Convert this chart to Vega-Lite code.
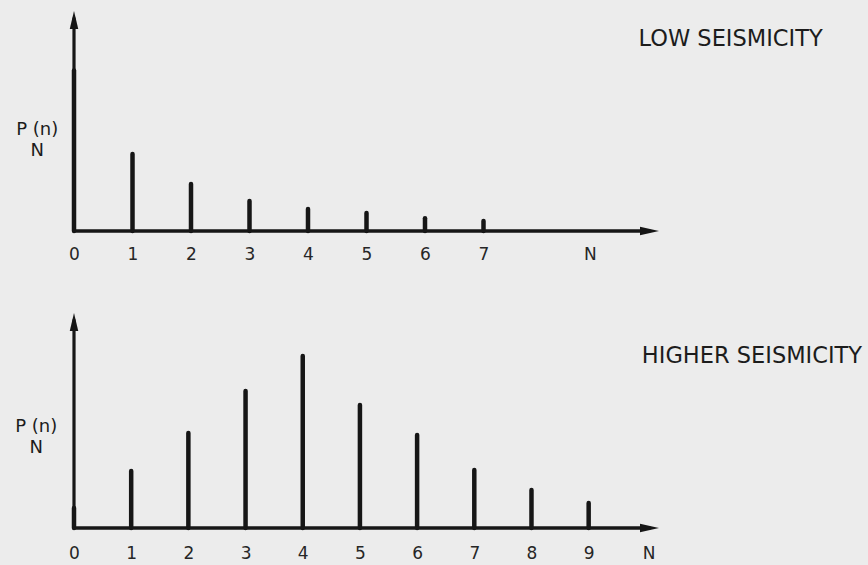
{
  "$schema": "https://vega.github.io/schema/vega-lite/v6.json",
  "background": "#ececec",
  "padding": {"left": 15, "top": 11, "right": 40, "bottom": 40},
  "bounds": "flush",
  "spacing": 82,
  "config": {
    "view": {"stroke": null},
    "font": "DejaVu Sans",
    "text": {"font": "DejaVu Sans", "color": "#1c1c1c"},
    "axis": {"labelFont": "DejaVu Sans", "labelColor": "#262626"}
  },
  "datasets": {
    "low": [
      {"n": 0, "p": 0.73},
      {"n": 1, "p": 0.35},
      {"n": 2, "p": 0.214},
      {"n": 3, "p": 0.136},
      {"n": 4, "p": 0.1},
      {"n": 5, "p": 0.082},
      {"n": 6, "p": 0.058},
      {"n": 7, "p": 0.045}
    ],
    "high": [
      {"n": 0, "p": 0.093},
      {"n": 1, "p": 0.265},
      {"n": 2, "p": 0.442},
      {"n": 3, "p": 0.637},
      {"n": 4, "p": 0.8},
      {"n": 5, "p": 0.572},
      {"n": 6, "p": 0.433},
      {"n": 7, "p": 0.27},
      {"n": 8, "p": 0.177},
      {"n": 9, "p": 0.116}
    ]
  },
  "vconcat": [
    {
      "width": 585,
      "height": 220,
      "data": {"name": "low"},
      "layer": [
        {
          "mark": {"type": "rule", "color": "#161616", "strokeWidth": 4.5, "strokeCap": "round"},
          "encoding": {
            "x": {
              "field": "n",
              "type": "quantitative",
              "scale": {"domain": [0, 10], "nice": false},
              "axis": {
                "values": [0, 1, 2, 3, 4, 5, 6, 7, 8.82],
                "labelExpr": "datum.value > 8 ? 'N' : format(datum.value, 'd')",
                "domain": false,
                "ticks": false,
                "tickSize": 0,
                "grid": false,
                "labelPadding": 23,
                "labelFontSize": 17,
                "labelBaseline": "middle",
                "labelFlush": false,
                "labelOverlap": false,
                "title": null
              }
            },
            "y": {"field": "p", "type": "quantitative", "scale": {"domain": [0, 1], "nice": false}, "axis": null},
            "y2": {"datum": 0}
          }
        },
        {
          "data": {"values": [{}]},
          "mark": {"type": "rule", "color": "#161616", "strokeWidth": 3.2},
          "encoding": {"x": {"datum": 0}, "y": {"datum": 0}, "y2": {"datum": 0.97}}
        },
        {
          "data": {"values": [{}]},
          "mark": {"type": "rule", "color": "#161616", "strokeWidth": 3.5},
          "encoding": {"x": {"datum": 0}, "x2": {"datum": 9.85}, "y": {"datum": 0}}
        },
        {
          "data": {"values": [{}]},
          "mark": {"type": "point", "filled": true, "opacity": 1, "color": "#161616", "size": 100, "shape": "M0,0L0.85,3.6L-0.85,3.6Z"},
          "encoding": {"x": {"datum": 0}, "y": {"datum": 1}}
        },
        {
          "data": {"values": [{}]},
          "mark": {"type": "point", "filled": true, "opacity": 1, "color": "#161616", "size": 100, "shape": "M0,0L-3.8,0.85L-3.8,-0.85Z"},
          "encoding": {"x": {"datum": 10}, "y": {"datum": 0}}
        },
        {
          "data": {"values": [{}]},
          "mark": {"type": "text", "text": ["P (n)", "N"], "fontSize": 18, "lineHeight": 21, "align": "center", "baseline": "middle"},
          "encoding": {"x": {"datum": -0.63}, "y": {"datum": 0.461}}
        },
        {
          "data": {"values": [{}]},
          "mark": {"type": "text", "text": "LOW SEISMICITY", "fontSize": 22.5, "align": "left", "baseline": "middle"},
          "encoding": {"x": {"datum": 9.65}, "y": {"datum": 0.873}}
        }
      ]
    },
    {
      "width": 585,
      "height": 215,
      "data": {"name": "high"},
      "layer": [
        {
          "mark": {"type": "rule", "color": "#161616", "strokeWidth": 4.5, "strokeCap": "round"},
          "encoding": {
            "x": {
              "field": "n",
              "type": "quantitative",
              "scale": {"domain": [0, 10.23], "nice": false},
              "axis": {
                "values": [0, 1, 2, 3, 4, 5, 6, 7, 8, 9, 10.05],
                "labelExpr": "datum.value > 9.5 ? 'N' : format(datum.value, 'd')",
                "domain": false,
                "ticks": false,
                "tickSize": 0,
                "grid": false,
                "labelPadding": 25,
                "labelFontSize": 17,
                "labelBaseline": "middle",
                "labelFlush": false,
                "labelOverlap": false,
                "title": null
              }
            },
            "y": {"field": "p", "type": "quantitative", "scale": {"domain": [0, 1], "nice": false}, "axis": null},
            "y2": {"datum": 0}
          }
        },
        {
          "data": {"values": [{}]},
          "mark": {"type": "rule", "color": "#161616", "strokeWidth": 3.2},
          "encoding": {"x": {"datum": 0}, "y": {"datum": 0}, "y2": {"datum": 0.97}}
        },
        {
          "data": {"values": [{}]},
          "mark": {"type": "rule", "color": "#161616", "strokeWidth": 3.5},
          "encoding": {"x": {"datum": 0}, "x2": {"datum": 10.08}, "y": {"datum": 0}}
        },
        {
          "data": {"values": [{}]},
          "mark": {"type": "point", "filled": true, "opacity": 1, "color": "#161616", "size": 100, "shape": "M0,0L0.85,3.6L-0.85,3.6Z"},
          "encoding": {"x": {"datum": 0}, "y": {"datum": 1}}
        },
        {
          "data": {"values": [{}]},
          "mark": {"type": "point", "filled": true, "opacity": 1, "color": "#161616", "size": 100, "shape": "M0,0L-3.8,0.85L-3.8,-0.85Z"},
          "encoding": {"x": {"datum": 10.23}, "y": {"datum": 0}}
        },
        {
          "data": {"values": [{}]},
          "mark": {"type": "text", "text": ["P (n)", "N"], "fontSize": 18, "lineHeight": 21, "align": "center", "baseline": "middle"},
          "encoding": {"x": {"datum": -0.66}, "y": {"datum": 0.47}}
        },
        {
          "data": {"values": [{}]},
          "mark": {"type": "text", "text": "HIGHER SEISMICITY", "fontSize": 22.5, "align": "left", "baseline": "middle"},
          "encoding": {"x": {"datum": 9.93}, "y": {"datum": 0.8}}
        }
      ]
    }
  ]
}
